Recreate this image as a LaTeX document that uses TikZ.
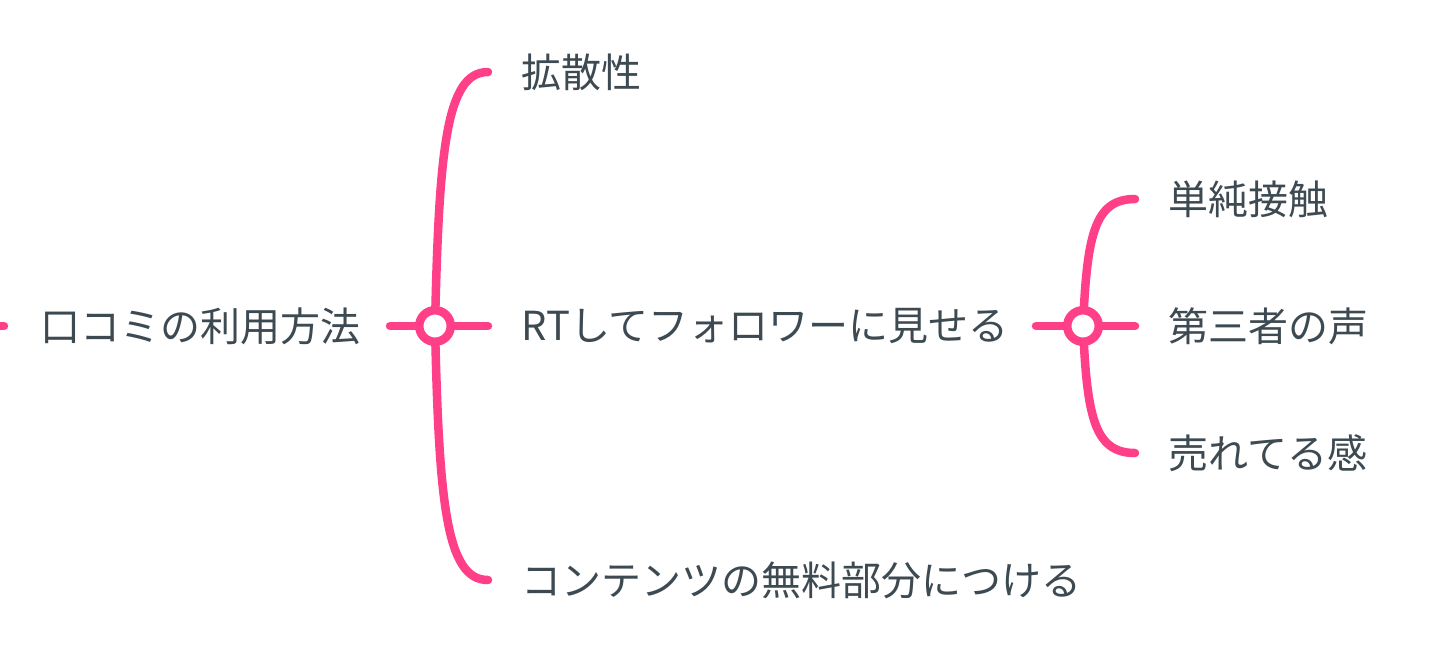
\documentclass[tikz,border=0pt]{standalone}
\usepackage{fontspec}
\setmainfont{Noto Sans CJK JP}
\definecolor{linkpink}{HTML}{FF4088}
\definecolor{txtgray}{HTML}{3D4A52}
\begin{document}
\begin{tikzpicture}[x=1pt,y=-1pt,
  link/.style={draw=linkpink,line width=8.5pt,line cap=round},
  junction/.style={circle,draw=linkpink,fill=white,line width=8.5pt,minimum size=31.5pt,inner sep=0pt},
  label/.style={anchor=west,inner sep=0pt,text=txtgray,font=\fontsize{40}{48}\selectfont}]
\useasboundingbox[fill=white] (0,0) rectangle (1438,665);
% text nodes
\node[label] (root) at (40,326) {口コミの利用方法};
\node[label] (a1) at (521,72) {拡散性};
\node[label] (a2) at (521,326) {RTしてフォロワーに見せる};
\node[label] (a3) at (521,580) {コンテンツの無料部分につける};
\node[label] (b1) at (1168,199) {単純接触};
\node[label] (b2) at (1168,326) {第三者の声};
\node[label] (b3) at (1168,453) {売れてる感};
% connector ends
\coordinate (s0) at (-10,326);
\coordinate (s1) at (4,326);
\coordinate (c1) at (435,326);
\coordinate (in1) at (390,326);
\coordinate (e1) at (488,72);
\coordinate (e2) at (488,326);
\coordinate (e3) at (488,580);
\coordinate (c2) at (1083,326);
\coordinate (in2) at (1036,326);
\coordinate (f1) at (1135,199);
\coordinate (f2) at (1135,326);
\coordinate (f3) at (1135,453);
% connectors
\draw[link] (s0) -- (s1);
\draw[link] (in1) -- (e2);
\draw[link] (c1) .. controls (439,150) and (446,72) .. (e1);
\draw[link] (c1) .. controls (439,502) and (446,580) .. (e3);
\draw[link] (in2) -- (f2);
\draw[link] (c2) .. controls (1087,236) and (1094,199) .. (f1);
\draw[link] (c2) .. controls (1087,416) and (1094,453) .. (f3);
% junctions
\node[junction] (j1) at (c1) {};
\node[junction] (j2) at (c2) {};
\end{tikzpicture}
\end{document}
